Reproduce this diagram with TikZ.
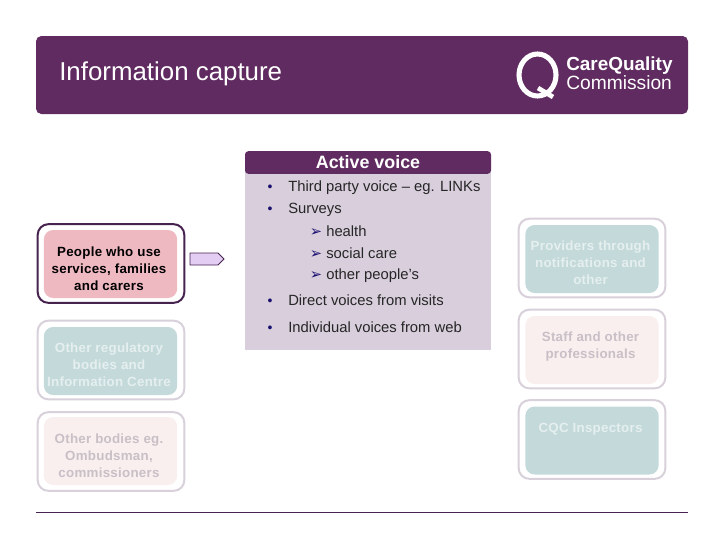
\documentclass[tikz,border=0pt]{standalone}
\usepackage{xcolor}
\usepackage{fontspec}
\setmainfont{Liberation Sans}
\newfontfamily\dejavu{DejaVu Sans}
\usepackage{tikz}
\definecolor{cqcpurple}{HTML}{5F2B60}
\definecolor{panelgrey}{HTML}{D8CEDC}
\definecolor{tealbox}{HTML}{C3D9DA}
\definecolor{pinkbox}{HTML}{EFB9C2}
\definecolor{palepink}{HTML}{F9EFEF}
\definecolor{ringgrey}{HTML}{D8D0DA}
\definecolor{ringdark}{HTML}{47234F}
\definecolor{arrowfill}{HTML}{E3CDF3}
\definecolor{bulletblue}{HTML}{1A1070}
\definecolor{fadetext}{HTML}{E6EFEF}
\definecolor{fadegrey}{HTML}{C8C0C6}
\tikzset{
  outerbox/.style = {draw = ringgrey, line width = 1.5pt, fill = white, rounded corners = 8pt,
    minimum width = 110pt, minimum height = 59pt, inner sep = 0pt},
  innerbox/.style = {rounded corners = 7pt, minimum width = 100pt, minimum height = 51pt, inner sep = 0pt},
  boxtext/.style = {align = center, inner sep = 0pt, font = \fontsize{10}{12.8}\selectfont\bfseries\addfontfeature{LetterSpace=2}},
  bodytext/.style = {anchor = base west, inner sep = 0pt, font = \fontsize{11.1}{13}\selectfont, text = black!85},
  bullet/.style = {anchor = base, inner sep = 0pt, font = \fontsize{10.5}{12}\selectfont, text = bulletblue},
  subbullet/.style = {anchor = base, inner sep = 0pt, font = \dejavu\fontsize{11}{13}\selectfont, text = bulletblue}
}

\begin{document}
\begin{tikzpicture}[x = 0.75pt, y = -0.75pt]
    \useasboundingbox (0, 0) rectangle (720, 540);

    \node [fill = cqcpurple, rounded corners = 4pt, minimum width = 489pt, minimum height = 58.5pt, inner sep = 0pt] (header) at (362, 75) {};
    \node [anchor = base west, inner sep = 0pt, text = white, font = \fontsize{19.4}{23}\selectfont] (title) at (59, 80.5) {Information capture};

    % logo
    \draw [white, line width = 3.8pt] (537.5, 75) ellipse (18.5 and 21);
    \draw [white, line width = 3.5pt] (538, 88) -- (553, 97);
    \node [anchor = base west, inner sep = 0pt, text = white, font = \fontsize{14.2}{16}\selectfont\bfseries] (logotop) at (566, 70) {CareQuality};
    \node [anchor = base west, inner sep = 0pt, text = white, font = \fontsize{14.4}{16}\selectfont] (logobottom) at (566, 89) {Commission};

    % centre panel
    \node [fill = panelgrey, minimum width = 184.5pt, minimum height = 140pt, inner sep = 0pt] (panel) at (368, 257) {};
    \node [fill = cqcpurple, rounded corners = 2.5pt, minimum width = 184.5pt, minimum height = 17pt, inner sep = 0pt] (panelhead) at (368, 162.5) {};
    \node [anchor = base, inner sep = 0pt, text = white, font = \fontsize{13.4}{15}\selectfont\bfseries] (active) at (368, 168) {Active voice};

    \node [bullet] (b1) at (270, 191) {•};
    \node [bodytext] (third) at (288, 191.5) {Third party voice – eg. LINKs};
    \node [bullet] (b2) at (270, 213) {•};
    \node [bodytext] (surveys) at (288, 213.5) {Surveys};
    \node [subbullet] (s1) at (316, 236) {➢};
    \node [bodytext] (health) at (326, 236.5) {health};
    \node [subbullet] (s2) at (316, 258) {➢};
    \node [bodytext] (social) at (326, 258.5) {social care};
    \node [subbullet] (s3) at (316, 279) {➢};
    \node [bodytext] (others) at (326, 279.5) {other people's};
    \node [bullet] (b3) at (270, 305) {•};
    \node [bodytext] (direct) at (288, 305.5) {Direct voices from visits};
    \node [bullet] (b4) at (270, 332) {•};
    \node [bodytext] (individual) at (288, 332.5) {Individual voices from web};

    % left column
    \node [outerbox, draw = ringdark] (peopleouter) at (111, 263.5) {};
    \node [innerbox, fill = pinkbox] (people) at (110.5, 264) {};
    \node [boxtext, text = black] (peopletext) at (109, 269) {People who use\\services, families\\and carers};

    \node [outerbox] (otherregouter) at (111, 360) {};
    \node [innerbox, fill = tealbox] (otherreg) at (110.5, 361) {};
    \node [boxtext, text = fadetext] (otherregtext) at (109, 364.5) {Other regulatory\\bodies and\\Information Centre};

    \node [outerbox] (bodiesouter) at (111, 451.5) {};
    \node [innerbox, fill = palepink] (bodies) at (110.5, 451) {};
    \node [boxtext, text = fadegrey] (bodiestext) at (109, 455.5) {Other bodies eg.\\Ombudsman,\\commissioners};

    % right column
    \node [outerbox] (providersouter) at (592, 258) {};
    \node [innerbox, fill = tealbox] (providers) at (592, 259) {};
    \node [boxtext, text = fadetext] (providerstext) at (590.5, 262.5) {Providers through\\notifications and\\other};

    \node [outerbox] (staffouter) at (592, 349) {};
    \node [innerbox, fill = palepink] (staff) at (592, 350) {};
    \node [boxtext, text = fadegrey] (stafftext) at (590.5, 346.5) {Staff and other\\professionals};

    \node [outerbox] (cqcouter) at (592, 439.5) {};
    \node [innerbox, fill = tealbox] (cqc) at (592, 440.5) {};
    \node [boxtext, text = fadetext] (cqctext) at (590.5, 429) {CQC Inspectors};

    \draw [ringdark, fill = arrowfill, line width = 0.6pt] (190, 253) -- (218, 253) -- (224, 259) -- (218, 265) -- (190, 265) -- cycle;

    \draw [ringdark, line width = 0.7pt] (36, 512.5) -- (688, 512.5);
\end{tikzpicture}
\end{document}
